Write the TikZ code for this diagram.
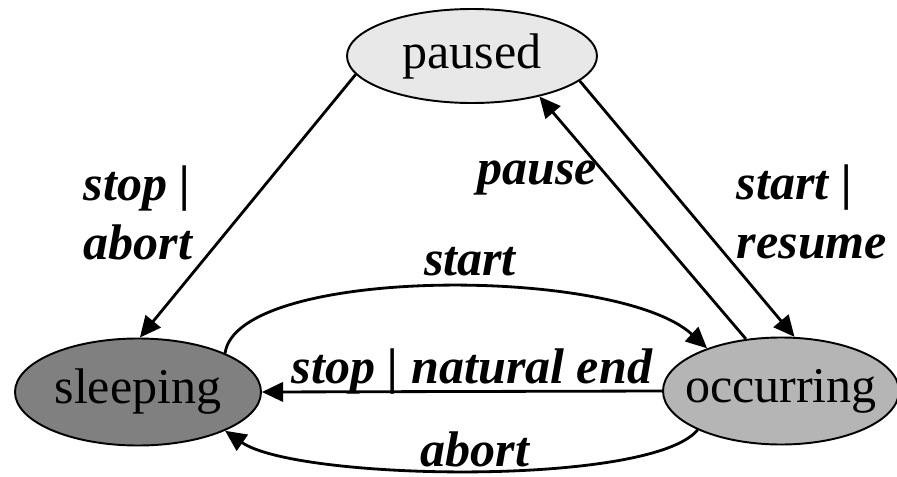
\documentclass[tikz,border=0pt]{standalone}
\usepackage{fontspec}
\setmainfont{Liberation Serif}
\usetikzlibrary{shapes.geometric,arrows.meta}
\begin{document}
\begin{tikzpicture}[x=0.02cm,y=-0.02cm,
  state/.style={ellipse,draw=black,line width=1.1pt,inner sep=0pt},
  stxt/.style={font=\fontsize{28.5}{31}\selectfont,inner sep=0pt},
  edge/.style={line width=1.6pt,-{Triangle[length=12pt,width=11pt]}},
  lbl/.style={font=\fontsize{28.5}{34}\selectfont\bfseries\itshape,inner sep=0pt,align=left}]
\useasboundingbox (0,0) rectangle (897,477);
\node[state,fill=black!9,minimum width=250*0.02cm,minimum height=94*0.02cm,
  label={[stxt]center:paused}] (paused) at (472,56) {};
\node[state,fill=black!50,minimum width=246*0.02cm,minimum height=107*0.02cm,
  label={[stxt]center:sleeping}] (sleeping) at (138,392) {};
\node[state,fill=black!29,minimum width=236*0.02cm,minimum height=107*0.02cm,
  label={[stxt]center:occurring}] (occurring) at (781,391) {};
\draw[edge] (paused.189) -- (sleeping.88);
\draw[edge] (occurring.124) -- (paused.329);
\draw[edge] (paused.347) -- (occurring.76);
\draw[edge] (sleeping.24) .. controls +(12,-87) and +(-90,-83) .. (occurring.150);
\draw[edge] (occurring.west) -- (sleeping.east);
\draw[edge] (occurring.205) .. controls +(-47,57) and +(72,50) .. (sleeping.336);
\node[lbl] (l1) at (138,213) {stop |\\abort};
\node[lbl] (l2) at (537,178) {pause};
\node[lbl] (l3) at (812,212) {start |\\resume};
\node[lbl] (l4) at (470,262) {start};
\node[lbl] (l5) at (472,372) {stop | natural end};
\node[lbl,anchor=base] (l6) at (475,466) {abort};
\end{tikzpicture}
\end{document}
